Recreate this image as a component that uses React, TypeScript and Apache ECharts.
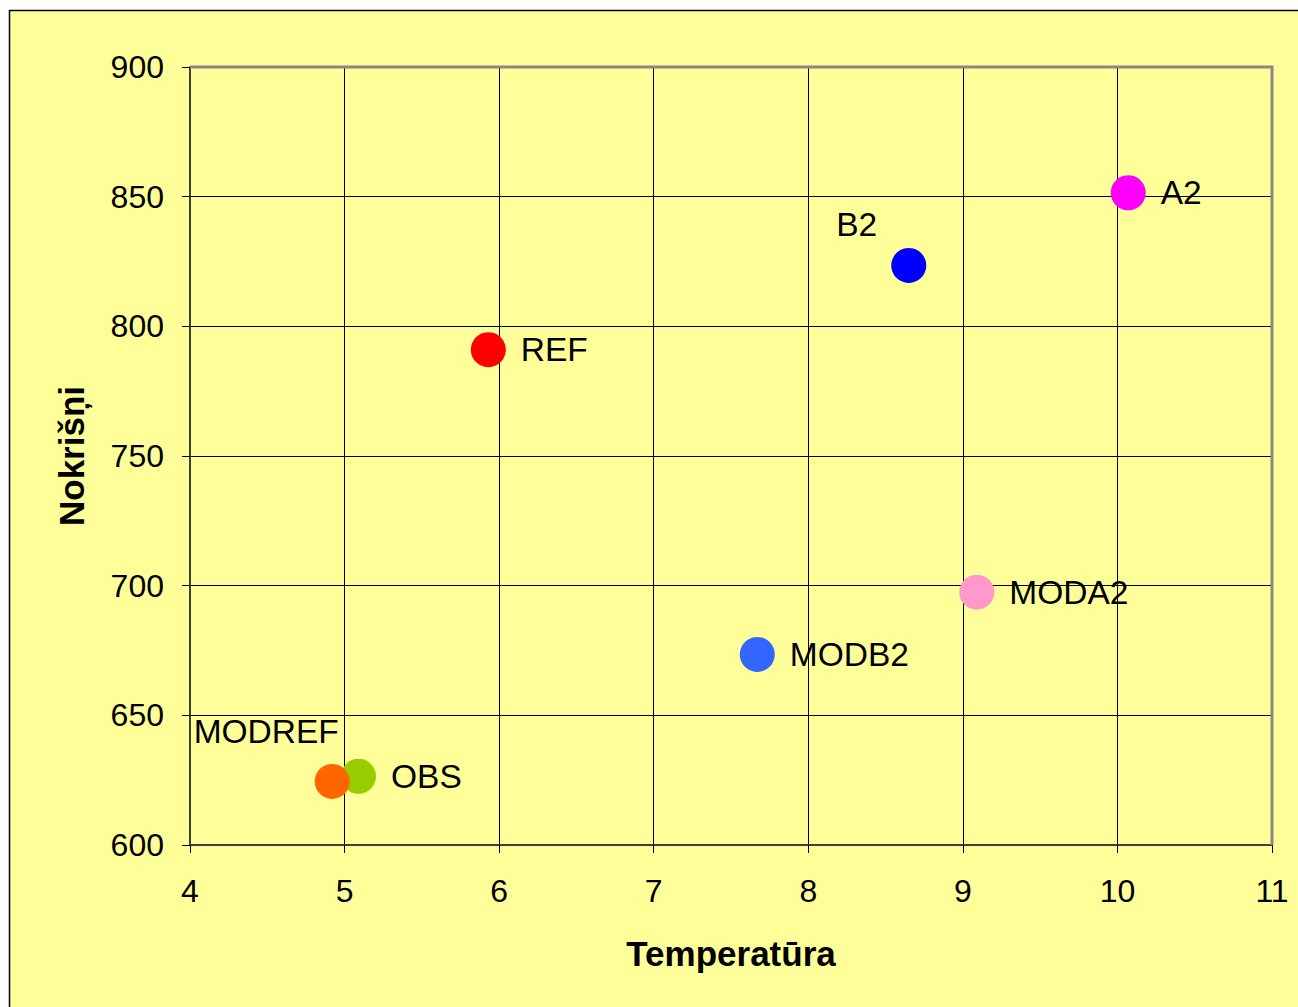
import React, { useEffect, useRef } from "react";
import * as echarts from "echarts";

// Scenario points: temperature (°C) vs precipitation (mm)
const scenarioNames = ["OBS", "MODREF", "REF", "B2", "A2", "MODB2", "MODA2"];
const temperature = [5.09, 4.92, 5.93, 8.65, 10.07, 7.67, 9.09];
const precipitation = [626.5, 624.5, 791, 823.5, 851.5, 673.5, 697.5];
const pointColors = ["#99CC00", "#FF6600", "#FF0000", "#0000FF", "#FF00FF", "#3366FF", "#FF99CC"];

const FONT = "'Liberation Sans', Arial, sans-serif";

export default function App() {
  const ref = useRef<HTMLDivElement>(null);

  useEffect(() => {
    if (!ref.current) return;
    const chart = echarts.init(ref.current, undefined, { renderer: "svg" });

    const labelFor = (name: string) => {
      const base = {
        show: true,
        formatter: name,
        color: "#000",
        fontSize: 33.5,
        fontFamily: FONT,
      };
      if (name === "B2") return { ...base, position: "top", distance: 6, offset: [-52, 0] };
      if (name === "MODREF") return { ...base, position: "top", distance: 15, offset: [-66, 0] };
      return { ...base, position: "right", distance: 15 };
    };

    const series = scenarioNames.map((name, i) => ({
      type: "scatter",
      name,
      data: [[temperature[i], precipitation[i]]],
      symbol: "circle",
      symbolSize: 35,
      itemStyle: { color: pointColors[i], opacity: 1 },
      label: labelFor(name),
      z: 2 + i,
    }));

    const gLeft = 190;
    const gTop = 67;
    const gWidth = 1082;
    const gHeight = 778;

    chart.setOption({
      animation: false,
      backgroundColor: "#FFFF99",
      textStyle: { fontFamily: FONT },
      grid: {
        left: gLeft,
        top: gTop,
        width: gWidth,
        height: gHeight,
        show: false,
      },
      xAxis: {
        type: "value",
        min: 4,
        max: 11,
        interval: 1,
        name: "Temperatūra",
        nameLocation: "middle",
        nameGap: 91,
        nameTextStyle: { fontSize: 35, fontWeight: "bold", color: "#000", fontFamily: FONT },
        axisLine: { show: true, lineStyle: { color: "#404040", width: 2 } },
        axisTick: { show: true, length: 8, lineStyle: { color: "#000", width: 1 } },
        axisLabel: { fontSize: 32, color: "#000", margin: 30, fontFamily: FONT },
        splitLine: { show: true, lineStyle: { color: "#000", width: 1 } },
      },
      yAxis: {
        type: "value",
        min: 600,
        max: 900,
        interval: 50,
        name: "Nokrišņi",
        nameLocation: "middle",
        nameGap: 101,
        nameTextStyle: { fontSize: 35, fontWeight: "bold", color: "#000", fontFamily: FONT },
        axisLine: { show: true, lineStyle: { color: "#404040", width: 2 } },
        axisTick: { show: true, length: 8, lineStyle: { color: "#000", width: 1 } },
        axisLabel: { fontSize: 32, color: "#000", margin: 26, fontFamily: FONT },
        splitLine: { show: true, lineStyle: { color: "#000", width: 1 } },
      },
      graphic: [
        { type: "rect", shape: { x: 0, y: 0, width: 1298, height: 10 }, style: { fill: "#FFFFFF" }, silent: true },
        { type: "rect", shape: { x: 0, y: 0, width: 9, height: 1007 }, style: { fill: "#FFFFFF" }, silent: true },
        { type: "line", shape: { x1: 9, y1: 10.5, x2: 1298, y2: 10.5 }, style: { stroke: "#000", lineWidth: 1.5 }, silent: true },
        { type: "line", shape: { x1: 9.5, y1: 10, x2: 9.5, y2: 1007 }, style: { stroke: "#000", lineWidth: 1.5 }, silent: true },
        // grey plot-area frame on the top and right sides
        {
          type: "polyline",
          shape: { points: [[gLeft, gTop], [gLeft + gWidth, gTop], [gLeft + gWidth, gTop + gHeight]] },
          style: { stroke: "#888888", lineWidth: 3, fill: null },
          silent: true,
          z: 1,
        },
      ],
      series,
    });

    return () => chart.dispose();
  }, []);

  return (
    <div
      ref={ref}
      style={{ position: "absolute", left: 0, top: 0, width: 1298, height: 1007 }}
    />
  );
}
